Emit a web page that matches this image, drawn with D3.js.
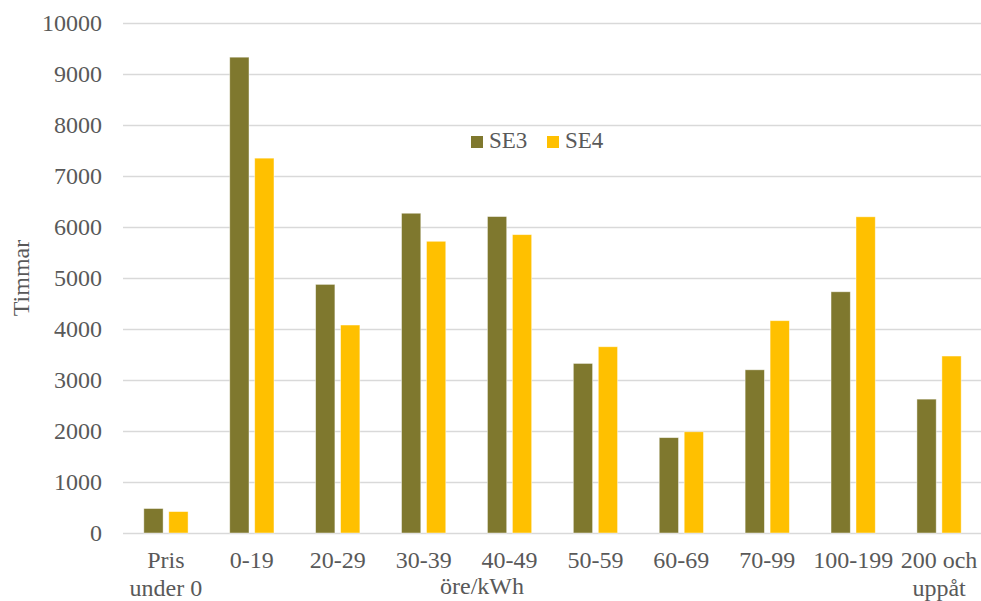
<!DOCTYPE html>
<html>
<head>
<meta charset="utf-8">
<script src="https://cdn.jsdelivr.net/npm/d3@7/dist/d3.min.js"></script>
<style>
  html, body { margin: 0; padding: 0; background: #fff; }
  svg text { font-family: "Liberation Serif", "Times New Roman", serif; fill: #595959; }
</style>
</head>
<body>
<svg id="chart" width="981" height="601"></svg>
<script>
// Hours per price interval (öre/kWh) for bidding zones SE3 and SE4
const categories = [["Pris", "under 0"], ["0-19"], ["20-29"], ["30-39"], ["40-49"], ["50-59"], ["60-69"], ["70-99"], ["100-199"], ["200 och", "uppåt"]];
const series = ["SE3", "SE4"];
const se3Values = [480, 9330, 4875, 6270, 6205, 3325, 1870, 3200, 4730, 2625];
const se4Values = [420, 7350, 4078, 5720, 5850, 3652, 1985, 4163, 6200, 3470];
const yTicks = [0, 1000, 2000, 3000, 4000, 5000, 6000, 7000, 8000, 9000, 10000];
const colors = { SE3: "#7f782e", SE4: "#ffc000" };

const svg = d3.select("#chart");
const plotLeft = 123, plotRight = 982, plotTop = 23, plotBottom = 533;

const keys = categories.map(c => c.join(" "));
const x0 = d3.scaleBand().domain(keys).range([plotLeft, plotRight]).padding(0);
const x1 = d3.scaleBand().domain(series).range([0, x0.bandwidth()])
  .paddingInner(0.228).paddingOuter(0.834);
const y = d3.scaleLinear().domain([0, 10000]).range([plotBottom, plotTop]);

// Horizontal gridlines and y tick labels
const yAxis = d3.axisLeft(y).tickValues(yTicks).tickSize(-(plotRight - plotLeft)).tickPadding(21).tickFormat(d3.format("d"));
const gy = svg.append("g").attr("transform", `translate(${plotLeft},0)`).call(yAxis);
gy.select(".domain").remove();
gy.selectAll(".tick line").attr("stroke", "#d9d9d9").attr("stroke-width", 1.4);
gy.selectAll(".tick text").attr("font-size", 24).attr("fill", "#595959")
  .style("font-family", "'Liberation Serif', serif");

// Grouped bars
const data = keys.map((k, i) => ({ key: k, SE3: se3Values[i], SE4: se4Values[i] }));
const groups = svg.append("g").selectAll("g").data(data).join("g")
  .attr("transform", d => `translate(${x0(d.key)},0)`);
groups.selectAll("rect")
  .data(d => series.map(s => ({ s, v: d[s] })))
  .join("rect")
  .attr("x", d => x1(d.s))
  .attr("width", x1.bandwidth())
  .attr("y", d => y(d.v))
  .attr("height", d => y(0) - y(d.v))
  .attr("fill", d => colors[d.s])
  .attr("stroke", "rgba(255,255,255,0.55)")
  .attr("stroke-width", 0.8);

// Category labels (may wrap onto two lines)
const xl = svg.append("g");
categories.forEach((c, i) => {
  const cx = x0(keys[i]) + x0.bandwidth() / 2;
  const t = xl.append("text").attr("text-anchor", "middle").attr("font-size", 24);
  c.forEach((line, j) => {
    t.append("tspan").attr("x", cx).attr("y", 568 + j * 28).text(line);
  });
});

// Axis titles
svg.append("text").attr("x", 482).attr("y", 594).attr("text-anchor", "middle")
  .attr("font-size", 24).text("öre/kWh");
svg.append("text").attr("transform", "translate(29,278) rotate(-90)")
  .attr("text-anchor", "middle").attr("font-size", 24).text("Timmar");

// Legend
const legend = svg.append("g");
const legendX = [471, 547];
series.forEach((s, i) => {
  legend.append("rect").attr("x", legendX[i]).attr("y", 136).attr("width", 12).attr("height", 12)
    .attr("fill", colors[s]);
  legend.append("text").attr("x", legendX[i] + 18).attr("y", 148).attr("font-size", 23).text(s);
});
</script>
</body>
</html>
